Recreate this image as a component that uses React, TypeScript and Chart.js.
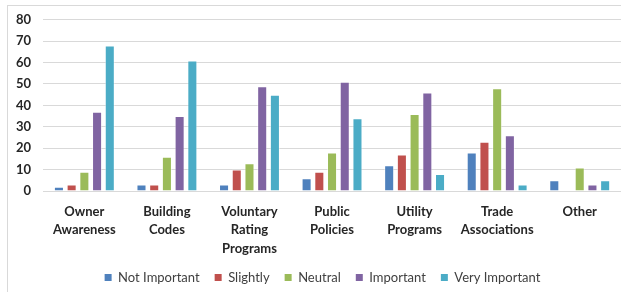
import React, { useEffect, useRef } from "react";
import { Chart, registerables } from "chart.js";

Chart.register(...registerables);

const categories: (string | string[])[] = [
  ["Owner", "Awareness"],
  ["Building", "Codes"],
  ["Voluntary", "Rating", "Programs"],
  ["Public", "Policies"],
  ["Utility", "Programs"],
  ["Trade", "Associations"],
  ["Other"],
];

const notImportant = [2, 3, 3, 6, 12, 18, 5];
const slightly = [3, 3, 10, 9, 17, 23, 0];
const neutral = [9, 16, 13, 18, 36, 48, 11];
const important = [37, 35, 49, 51, 46, 26, 3];
const veryImportant = [68, 61, 45, 34, 8, 3, 5];

const yTicks = [0, 10, 20, 30, 40, 50, 60, 70, 80];

const seriesNames = ["Not Important", "Slightly", "Neutral", "Important", "Very Important"];
const seriesColors = ["#4F81BD", "#C0504D", "#9BBB59", "#8064A2", "#4BACC6"];

const legendShift = {
  id: "legendShift",
  afterLayout(chart: any) {
    const lg = chart.legend;
    if (lg) {
      lg.left += 10;
      lg.right += 10;
    }
  },
};

export default function App() {
  const canvasRef = useRef<HTMLCanvasElement | null>(null);

  useEffect(() => {
    if (!canvasRef.current) return;
    const seriesData = [notImportant, slightly, neutral, important, veryImportant];
    const chart = new Chart(canvasRef.current, {
      type: "bar",
      data: {
        labels: categories,
        datasets: seriesData.map((d, i) => ({
          label: seriesNames[i],
          data: d,
          backgroundColor: seriesColors[i],
          borderColor: "rgba(255,255,255,0.45)",
          borderWidth: 1,
          categoryPercentage: 0.77,
          barPercentage: 0.79,
        })),
      },
      plugins: [legendShift],
      options: {
        animation: false,
        responsive: false,
        devicePixelRatio: 1,
        layout: { padding: { top: 17, left: 4, right: 0, bottom: 0 } },
        plugins: {
          tooltip: { enabled: false },
          legend: {
            position: "bottom",
            maxHeight: 36,
            labels: {
              boxWidth: 7,
              boxHeight: 7,
              padding: 15,
              color: "#404040",
              font: { family: "Lato", size: 13 },
              generateLabels: (c: any) => {
                const items = Chart.defaults.plugins.legend.labels.generateLabels(c);
                return items.map((it: any) => ({ ...it, lineWidth: 0, strokeStyle: "rgba(0,0,0,0)" }));
              },
            },
          },
        },
        scales: {
          x: {
            grid: { display: false, drawTicks: false },
            border: { display: true, color: "#d9d9d9", width: 1 },
            afterFit: (scale: any) => {
              scale.height = 65;
            },
            ticks: {
              color: "#262626",
              padding: 12,
              maxRotation: 0,
              autoSkip: false,
              font: { family: "Lato", size: 13, weight: "bold", lineHeight: 1.4 },
            },
          },
          y: {
            min: 0,
            max: 80,
            afterBuildTicks: (scale: any) => {
              scale.ticks = yTicks.map((v) => ({ value: v }));
            },
            grid: { color: "#d9d9d9", lineWidth: 1, drawTicks: false },
            border: { display: false },
            ticks: {
              color: "#262626",
              padding: 12,
              font: { family: "Lato", size: 13, weight: "bold" },
            },
          },
        },
      },
    });
    return () => chart.destroy();
  }, []);

  return (
    <div
      style={{
        position: "fixed",
        left: 0,
        top: 0,
        width: 621,
        height: 292,
        background: "#fff",
        overflow: "hidden",
      }}
    >
      <canvas ref={canvasRef} width={621} height={292} style={{ position: "absolute", left: 0, top: 0 }} />
      <div
        style={{
          position: "absolute",
          left: 7,
          top: 5,
          width: 700,
          height: 400,
          border: "1px solid #d9d9d9",
          pointerEvents: "none",
        }}
      />
    </div>
  );
}
